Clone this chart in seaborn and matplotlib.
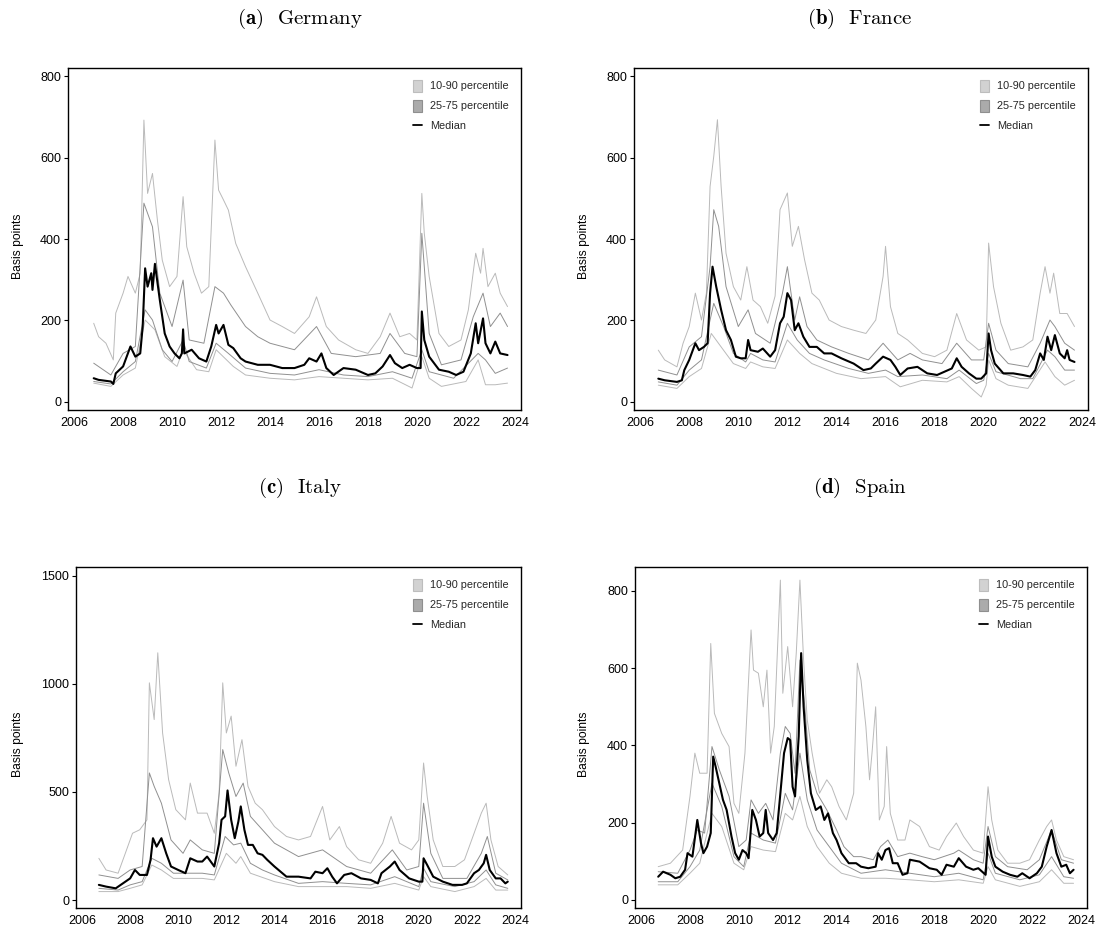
import matplotlib
matplotlib.use("Agg")
import matplotlib.pyplot as plt
import seaborn as sns
from matplotlib.patches import Patch
from matplotlib.lines import Line2D

# ---------------- DATA ----------------
YEARS = [2006, 2008, 2010, 2012, 2014, 2016, 2018, 2020, 2022, 2024]
LEGEND_LABELS = ["10-90 percentile", "25-75 percentile", "Median"]
TITLES = [("(a)", "Germany"), ("(b)", "France"), ("(c)", "Italy"), ("(d)", "Spain")]
YLABEL = "Basis points"

# Germany
DE_MED_X = [2006.8, 2007.0, 2007.5, 2007.6, 2007.7, 2008.0, 2008.3, 2008.5, 2008.7, 2008.8, 2008.9, 2009.0,
            2009.15, 2009.2, 2009.3, 2009.5, 2009.7, 2009.9, 2010.1, 2010.3, 2010.4, 2010.45, 2010.5, 2010.8,
            2011.1, 2011.4, 2011.6, 2011.8, 2011.9, 2012.1, 2012.3, 2012.5, 2012.8, 2013.0, 2013.5, 2014.0,
            2014.5, 2015.0, 2015.4, 2015.6, 2015.9, 2016.1, 2016.3, 2016.6, 2017.0, 2017.5, 2018.0, 2018.3,
            2018.6, 2018.9, 2019.1, 2019.4, 2019.7, 2020.0, 2020.15, 2020.2, 2020.3, 2020.5, 2020.9, 2021.3,
            2021.6, 2021.9, 2022.2, 2022.4, 2022.5, 2022.7, 2022.8, 2023.0, 2023.2, 2023.4, 2023.7]
DE_MED = [58, 54, 50, 44, 70, 87, 136, 111, 119, 185, 328, 283,
          316, 275, 339, 250, 168, 136, 119, 107, 119, 178, 119, 128,
          107, 99, 136, 189, 168, 189, 140, 132, 107, 99, 91, 91,
          83, 83, 91, 107, 99, 119, 83, 66, 83, 79, 66, 70,
          87, 115, 95, 83, 91, 83, 83, 222, 152, 111, 79, 74,
          66, 74, 119, 193, 144, 205, 144, 119, 148, 119, 115]
DE_P90_X = [2006.8, 2007.0, 2007.3, 2007.6, 2007.7, 2008.0, 2008.2, 2008.5, 2008.7, 2008.85, 2009.0, 2009.2,
            2009.4, 2009.6, 2009.9, 2010.2, 2010.45, 2010.6, 2010.9, 2011.2, 2011.5, 2011.75, 2011.9, 2012.1,
            2012.3, 2012.6, 2013.0, 2013.5, 2014.0, 2014.5, 2015.0, 2015.6, 2015.9, 2016.3, 2016.8, 2017.5,
            2018.0, 2018.5, 2018.9, 2019.3, 2019.7, 2020.0, 2020.2, 2020.3, 2020.5, 2020.9, 2021.3, 2021.8,
            2022.1, 2022.4, 2022.6, 2022.7, 2022.9, 2023.2, 2023.4, 2023.7]
DE_P90 = [193, 160, 144, 103, 218, 267, 308, 267, 316, 692, 512, 561,
          447, 348, 283, 308, 504, 381, 316, 267, 283, 643, 520, 496,
          471, 389, 332, 267, 201, 185, 168, 209, 258, 185, 152, 128,
          119, 160, 218, 160, 168, 152, 512, 414, 308, 168, 136, 152,
          226, 365, 316, 377, 283, 316, 267, 234]
DE_P75_X = [2006.8, 2007.5, 2008.0, 2008.5, 2008.85, 2009.2, 2009.5, 2010.0, 2010.45, 2010.7, 2011.3, 2011.75,
            2012.1, 2012.4, 2013.0, 2013.5, 2014.0, 2015.0, 2015.9, 2016.5, 2017.5, 2018.5, 2018.9, 2019.5,
            2020.0, 2020.2, 2020.5, 2021.0, 2021.8, 2022.3, 2022.7, 2023.0, 2023.4, 2023.7]
DE_P75 = [95, 66, 119, 136, 488, 430, 267, 185, 299, 152, 144, 283,
          267, 238, 185, 160, 144, 128, 185, 119, 111, 119, 168, 119,
          111, 414, 168, 91, 103, 209, 267, 185, 218, 185]
DE_P25_X = [2006.8, 2007.5, 2008.0, 2008.5, 2008.9, 2009.2, 2009.6, 2010.0, 2010.45, 2010.7, 2011.4, 2011.8,
            2012.3, 2013.0, 2014.0, 2015.0, 2016.0, 2017.0, 2018.0, 2019.0, 2019.8, 2020.2, 2020.5, 2021.5,
            2022.5, 2022.8, 2023.2, 2023.7]
DE_P25 = [50, 44, 74, 99, 226, 201, 128, 99, 152, 99, 83, 144,
          119, 83, 70, 66, 79, 66, 62, 74, 58, 128, 74, 58,
          119, 103, 70, 83]
DE_P10_X = [2006.8, 2007.5, 2008.0, 2008.5, 2008.9, 2009.3, 2009.7, 2010.2, 2010.45, 2011.0, 2011.5, 2011.8,
            2012.5, 2013.0, 2014.0, 2015.0, 2016.0, 2017.0, 2018.0, 2019.0, 2019.8, 2020.2, 2020.5, 2021.0,
            2022.0, 2022.5, 2022.8, 2023.2, 2023.7]
DE_P10 = [46, 38, 66, 83, 201, 177, 111, 87, 128, 79, 74, 128,
          87, 66, 58, 54, 62, 58, 54, 58, 34, 111, 58, 38,
          50, 103, 42, 42, 46]

# France
FR_MED_X = [2006.74, 2007.0, 2007.5, 2007.7, 2007.8, 2008.0, 2008.25, 2008.4, 2008.6, 2008.75, 2008.85, 2008.95,
            2009.1, 2009.3, 2009.5, 2009.7, 2009.9, 2010.1, 2010.3, 2010.4, 2010.5, 2010.8, 2011.0, 2011.3,
            2011.5, 2011.7, 2011.85, 2012.0, 2012.15, 2012.3, 2012.45, 2012.65, 2012.9, 2013.2, 2013.5, 2013.8,
            2014.2, 2014.7, 2015.1, 2015.4, 2015.6, 2015.9, 2016.2, 2016.4, 2016.6, 2016.9, 2017.3, 2017.7,
            2018.1, 2018.4, 2018.7, 2018.9, 2019.1, 2019.4, 2019.7, 2019.9, 2020.1, 2020.2, 2020.3, 2020.45,
            2020.8, 2021.2, 2021.6, 2021.9, 2022.1, 2022.3, 2022.45, 2022.6, 2022.75, 2022.9, 2023.1, 2023.3,
            2023.4, 2023.5, 2023.7]
FR_MED = [57, 53, 49, 53, 78, 103, 144, 127, 135, 144, 267, 332,
          283, 226, 176, 152, 111, 107, 107, 152, 127, 123, 131, 111,
          127, 193, 209, 267, 250, 176, 193, 160, 135, 135, 119, 119,
          107, 94, 78, 82, 94, 111, 103, 86, 66, 82, 86, 70,
          66, 74, 82, 107, 86, 70, 57, 57, 70, 168, 127, 94,
          70, 70, 66, 62, 78, 119, 103, 160, 127, 164, 119, 107,
          127, 103, 98]
FR_P90_X = [2006.74, 2007.0, 2007.5, 2007.75, 2008.0, 2008.25, 2008.5, 2008.7, 2008.85, 2009.0, 2009.15, 2009.3,
            2009.5, 2009.8, 2010.1, 2010.35, 2010.6, 2010.9, 2011.2, 2011.5, 2011.7, 2012.0, 2012.2, 2012.45,
            2012.7, 2013.0, 2013.3, 2013.7, 2014.2, 2014.7, 2015.2, 2015.6, 2015.9, 2016.0, 2016.2, 2016.5,
            2016.9, 2017.5, 2018.0, 2018.5, 2018.9, 2019.3, 2019.8, 2020.1, 2020.2, 2020.4, 2020.7, 2021.1,
            2021.6, 2022.0, 2022.3, 2022.5, 2022.7, 2022.85, 2023.1, 2023.4, 2023.7]
FR_P90 = [127, 103, 86, 144, 185, 267, 201, 267, 529, 603, 693, 529,
          365, 283, 250, 332, 250, 234, 193, 260, 472, 513, 382, 431,
          349, 267, 250, 201, 185, 176, 168, 201, 308, 382, 234, 168,
          152, 119, 111, 127, 217, 152, 127, 135, 390, 283, 193, 127,
          135, 152, 267, 332, 267, 316, 217, 217, 185]
FR_P75_X = [2006.74, 2007.5, 2008.0, 2008.5, 2008.85, 2009.0, 2009.2, 2009.5, 2010.0, 2010.4, 2010.7, 2011.3,
            2011.8, 2012.0, 2012.3, 2012.5, 2012.8, 2013.2, 2013.8, 2014.5, 2015.3, 2015.9, 2016.5, 2017.0,
            2017.5, 2018.3, 2018.9, 2019.5, 2020.0, 2020.2, 2020.5, 2021.0, 2021.8, 2022.3, 2022.7, 2022.9,
            2023.3, 2023.7]
FR_P75 = [78, 66, 135, 160, 332, 472, 431, 283, 185, 226, 168, 144,
          267, 332, 201, 258, 185, 152, 135, 119, 103, 144, 103, 119,
          103, 94, 144, 103, 103, 193, 127, 94, 86, 144, 201, 185,
          144, 127]
FR_P25_X = [2006.74, 2007.5, 2008.0, 2008.5, 2008.85, 2009.0, 2009.4, 2009.8, 2010.3, 2010.5, 2011.0, 2011.5,
            2012.0, 2012.4, 2012.9, 2013.5, 2014.5, 2015.3, 2016.0, 2016.5, 2017.5, 2018.5, 2019.0, 2019.7,
            2020.0, 2020.2, 2020.5, 2021.5, 2022.0, 2022.6, 2022.9, 2023.3, 2023.7]
FR_P25 = [49, 41, 78, 103, 201, 242, 185, 119, 98, 119, 103, 98,
          193, 152, 119, 103, 82, 70, 78, 62, 66, 57, 78, 45,
          53, 119, 74, 57, 57, 127, 111, 78, 78]
FR_P10_X = [2006.74, 2007.5, 2008.0, 2008.5, 2008.9, 2009.3, 2009.8, 2010.3, 2010.5, 2011.0, 2011.5, 2012.0,
            2012.5, 2013.0, 2014.0, 2015.0, 2016.0, 2016.6, 2017.5, 2018.5, 2019.0, 2019.5, 2019.9, 2020.1,
            2020.2, 2020.5, 2021.0, 2021.8, 2022.5, 2022.9, 2023.3, 2023.7]
FR_P10 = [41, 33, 62, 82, 168, 135, 94, 82, 98, 86, 82, 152,
          119, 94, 70, 57, 62, 37, 53, 49, 62, 33, 12, 41,
          103, 57, 41, 33, 98, 62, 41, 53]

# Italy
IT_MED_X = [2006.7, 2007.0, 2007.4, 2007.7, 2008.0, 2008.2, 2008.4, 2008.7, 2008.85, 2008.95, 2009.1, 2009.3,
            2009.5, 2009.7, 2010.0, 2010.3, 2010.5, 2010.8, 2011.0, 2011.2, 2011.5, 2011.7, 2011.8, 2011.95,
            2012.05, 2012.2, 2012.35, 2012.5, 2012.6, 2012.75, 2012.9, 2013.1, 2013.3, 2013.5, 2013.7, 2014.0,
            2014.5, 2015.0, 2015.5, 2015.7, 2016.0, 2016.2, 2016.4, 2016.6, 2016.9, 2017.2, 2017.6, 2018.0,
            2018.3, 2018.45, 2018.8, 2019.0, 2019.2, 2019.6, 2020.0, 2020.15, 2020.2, 2020.35, 2020.6, 2021.0,
            2021.4, 2021.8, 2022.0, 2022.3, 2022.5, 2022.7, 2022.8, 2022.95, 2023.2, 2023.4, 2023.6, 2023.7]
IT_MED = [70, 62, 54, 77, 100, 139, 116, 116, 186, 286, 247, 286,
          216, 155, 139, 124, 193, 178, 178, 201, 155, 263, 371, 387,
          507, 371, 286, 363, 433, 325, 255, 255, 216, 209, 186, 155,
          108, 108, 100, 131, 124, 147, 108, 77, 116, 124, 100, 93,
          77, 124, 155, 178, 139, 100, 85, 85, 193, 162, 108, 85,
          70, 70, 77, 124, 139, 170, 209, 139, 100, 100, 77, 85]
IT_P90_X = [2006.7, 2007.0, 2007.5, 2007.8, 2008.1, 2008.4, 2008.7, 2008.8, 2009.0, 2009.15, 2009.35, 2009.6,
            2009.9, 2010.3, 2010.5, 2010.8, 2011.2, 2011.5, 2011.7, 2011.85, 2012.0, 2012.2, 2012.4, 2012.65,
            2012.9, 2013.2, 2013.5, 2014.0, 2014.5, 2015.0, 2015.5, 2016.0, 2016.3, 2016.7, 2017.0, 2017.5,
            2018.0, 2018.5, 2018.85, 2019.2, 2019.7, 2020.0, 2020.2, 2020.35, 2020.6, 2021.0, 2021.5, 2021.9,
            2022.3, 2022.6, 2022.8, 2023.0, 2023.3, 2023.7]
IT_P90 = [193, 139, 124, 216, 309, 325, 371, 1005, 835, 1144, 773, 557,
          418, 371, 541, 402, 402, 309, 495, 1005, 773, 851, 619, 742,
          526, 448, 418, 340, 294, 278, 294, 433, 278, 340, 247, 186,
          170, 263, 387, 263, 232, 278, 634, 479, 278, 155, 155, 186,
          309, 402, 448, 278, 155, 116]
IT_P75_X = [2006.7, 2007.5, 2008.0, 2008.5, 2008.8, 2009.0, 2009.3, 2009.7, 2010.2, 2010.5, 2011.0, 2011.5,
            2011.85, 2012.1, 2012.4, 2012.7, 2013.0, 2013.5, 2014.0, 2015.0, 2016.0, 2017.0, 2018.0, 2018.9,
            2019.5, 2020.0, 2020.2, 2020.5, 2021.0, 2022.0, 2022.6, 2022.85, 2023.2, 2023.7]
IT_P75 = [116, 100, 139, 155, 588, 526, 448, 278, 216, 278, 232, 216,
          696, 588, 479, 541, 387, 325, 263, 201, 232, 155, 124, 232,
          139, 155, 448, 216, 100, 100, 216, 294, 124, 93]
IT_P25_X = [2006.7, 2007.5, 2008.0, 2008.5, 2008.9, 2009.3, 2009.8, 2010.5, 2011.0, 2011.5, 2011.95, 2012.3,
            2012.6, 2013.0, 2013.5, 2014.0, 2015.0, 2016.0, 2017.0, 2018.0, 2019.0, 2020.0, 2020.2, 2020.5,
            2021.5, 2022.3, 2022.8, 2023.2, 2023.7]
IT_P25 = [54, 46, 70, 85, 193, 170, 124, 124, 124, 116, 294, 255,
          263, 170, 139, 116, 77, 85, 77, 70, 108, 62, 147, 85,
          62, 85, 139, 70, 54]
IT_P10_X = [2006.7, 2007.5, 2008.0, 2008.5, 2008.9, 2009.3, 2009.8, 2010.5, 2011.0, 2011.5, 2012.0, 2012.4,
            2012.6, 2013.0, 2014.0, 2015.0, 2016.0, 2017.0, 2018.0, 2019.0, 2020.0, 2020.2, 2020.5, 2021.5,
            2022.3, 2022.8, 2023.2, 2023.7]
IT_P10 = [39, 39, 54, 70, 162, 139, 100, 100, 100, 93, 216, 170,
          201, 124, 85, 62, 62, 62, 54, 77, 46, 108, 62, 39,
          62, 100, 46, 46]

# Spain
ES_MED_X = [2006.7, 2006.9, 2007.2, 2007.4, 2007.6, 2007.8, 2007.9, 2008.1, 2008.3, 2008.45, 2008.55, 2008.7,
            2008.85, 2008.95, 2009.05, 2009.2, 2009.35, 2009.5, 2009.7, 2009.85, 2010.0, 2010.15, 2010.3, 2010.4,
            2010.55, 2010.7, 2010.85, 2011.0, 2011.1, 2011.2, 2011.4, 2011.55, 2011.7, 2011.85, 2012.0, 2012.1,
            2012.2, 2012.3, 2012.45, 2012.55, 2012.65, 2012.8, 2012.95, 2013.15, 2013.35, 2013.5, 2013.65, 2013.85,
            2014.0, 2014.2, 2014.5, 2014.8, 2015.0, 2015.3, 2015.6, 2015.7, 2015.85, 2016.0, 2016.15, 2016.3,
            2016.5, 2016.7, 2016.9, 2017.0, 2017.4, 2017.8, 2018.1, 2018.3, 2018.5, 2018.8, 2019.0, 2019.3,
            2019.6, 2019.8, 2020.1, 2020.2, 2020.35, 2020.5, 2020.8, 2021.1, 2021.4, 2021.6, 2021.9, 2022.2,
            2022.4, 2022.6, 2022.8, 2023.0, 2023.2, 2023.4, 2023.55, 2023.7]
ES_MED = [60, 73, 65, 56, 60, 78, 121, 112, 207, 147, 121, 138,
          173, 371, 345, 302, 259, 233, 164, 121, 104, 129, 121, 108,
          233, 207, 164, 173, 233, 173, 155, 173, 276, 380, 419, 414,
          293, 268, 423, 639, 501, 362, 276, 233, 242, 207, 224, 173,
          155, 121, 95, 95, 86, 82, 86, 121, 104, 129, 134, 95,
          95, 65, 69, 104, 99, 82, 78, 65, 91, 86, 108, 86,
          78, 82, 65, 164, 112, 86, 73, 65, 60, 69, 56, 69,
          86, 138, 181, 121, 86, 91, 69, 78]
ES_P90_X = [2006.7, 2007.2, 2007.7, 2008.0, 2008.2, 2008.4, 2008.7, 2008.85, 2009.0, 2009.3, 2009.6, 2009.8,
            2010.0, 2010.25, 2010.5, 2010.6, 2010.8, 2011.0, 2011.15, 2011.3, 2011.45, 2011.7, 2011.8, 2012.0,
            2012.2, 2012.35, 2012.5, 2012.65, 2012.8, 2013.0, 2013.3, 2013.6, 2013.8, 2014.1, 2014.4, 2014.7,
            2014.85, 2015.0, 2015.2, 2015.35, 2015.45, 2015.6, 2015.75, 2015.95, 2016.05, 2016.2, 2016.5, 2016.8,
            2017.0, 2017.4, 2017.8, 2018.2, 2018.5, 2018.9, 2019.2, 2019.6, 2020.0, 2020.2, 2020.35, 2020.6,
            2021.0, 2021.5, 2021.9, 2022.3, 2022.6, 2022.8, 2023.0, 2023.3, 2023.7]
ES_P90 = [86, 95, 129, 268, 380, 328, 328, 664, 483, 431, 397, 250,
          224, 380, 699, 595, 587, 500, 595, 380, 449, 828, 535, 656,
          500, 639, 828, 621, 466, 380, 276, 311, 293, 242, 207, 276,
          613, 569, 449, 311, 380, 500, 207, 242, 397, 224, 155, 155,
          207, 190, 138, 129, 164, 199, 164, 129, 121, 293, 207, 129,
          95, 95, 104, 155, 190, 207, 155, 112, 104]
ES_P75_X = [2006.7, 2007.5, 2008.0, 2008.3, 2008.6, 2008.9, 2009.2, 2009.6, 2010.0, 2010.3, 2010.5, 2010.8,
            2011.1, 2011.4, 2011.7, 2011.9, 2012.1, 2012.3, 2012.5, 2012.7, 2012.9, 2013.2, 2013.6, 2014.0,
            2014.3, 2014.7, 2015.0, 2015.5, 2015.8, 2016.1, 2016.5, 2017.0, 2017.5, 2018.0, 2018.8, 2019.0,
            2019.6, 2020.0, 2020.2, 2020.5, 2021.0, 2021.8, 2022.3, 2022.8, 2023.2, 2023.7]
ES_P75 = [73, 69, 129, 181, 173, 397, 337, 268, 138, 155, 259, 224,
          250, 207, 380, 449, 431, 328, 621, 501, 337, 276, 233, 181,
          138, 112, 112, 104, 138, 155, 112, 121, 112, 104, 121, 129,
          104, 95, 190, 112, 86, 78, 104, 181, 104, 95]
ES_P25_X = [2006.7, 2007.5, 2008.0, 2008.4, 2008.9, 2009.3, 2009.8, 2010.2, 2010.5, 2011.0, 2011.5, 2011.9,
            2012.2, 2012.5, 2012.8, 2013.2, 2013.7, 2014.2, 2015.0, 2016.0, 2017.0, 2018.0, 2019.0, 2020.0,
            2020.2, 2020.5, 2021.5, 2022.3, 2022.8, 2023.3, 2023.7]
ES_P25 = [47, 47, 86, 129, 302, 242, 112, 86, 173, 155, 147, 276,
          233, 380, 259, 181, 138, 95, 69, 78, 69, 60, 69, 52,
          121, 69, 52, 65, 112, 60, 56]
ES_P10_X = [2006.7, 2007.5, 2008.0, 2008.4, 2008.9, 2009.3, 2009.8, 2010.2, 2010.5, 2011.0, 2011.5, 2011.9,
            2012.2, 2012.5, 2012.8, 2013.2, 2013.7, 2014.2, 2015.0, 2016.0, 2017.0, 2018.0, 2019.0, 2020.0,
            2020.2, 2020.5, 2021.5, 2022.3, 2022.8, 2023.3, 2023.7]
ES_P10 = [39, 39, 69, 95, 224, 190, 95, 78, 138, 129, 125, 224,
          207, 268, 190, 138, 95, 69, 56, 56, 52, 47, 52, 43,
          86, 52, 35, 47, 78, 43, 43]

YLIMS = [(-20, 820), (-20, 820), (-37, 1541), (-21, 862)]
YTICKS = [[0, 200, 400, 600, 800], [0, 200, 400, 600, 800],
          [0, 500, 1000, 1500], [0, 200, 400, 600, 800]]

# ---------------- STYLE ----------------
sns.set_theme(style="white")
plt.rcParams["font.family"] = ["Liberation Sans", "DejaVu Sans"]
plt.rcParams["mathtext.fontset"] = "cm"

C_OUTER = "#bababa"
C_INNER = "#909090"

fig = plt.figure(figsize=(11.02, 9.34), dpi=100)
W, H = 1102.0, 934.0
# axes boxes in pixels: left, right, top, bottom
BOXES = [(68, 521, 68, 410), (634, 1088, 68, 410), (76, 521, 567, 908), (635, 1087, 567, 908)]
YLAB_X = [23.5, 589.5, 23.5, 589.5]
TITLE_POS = [(300, 19), (860, 19), (300, 488), (860, 488)]

panels = [
    (DE_P10_X, DE_P10, DE_P25_X, DE_P25, DE_P75_X, DE_P75, DE_P90_X, DE_P90, DE_MED_X, DE_MED),
    (FR_P10_X, FR_P10, FR_P25_X, FR_P25, FR_P75_X, FR_P75, FR_P90_X, FR_P90, FR_MED_X, FR_MED),
    (IT_P10_X, IT_P10, IT_P25_X, IT_P25, IT_P75_X, IT_P75, IT_P90_X, IT_P90, IT_MED_X, IT_MED),
    (ES_P10_X, ES_P10, ES_P25_X, ES_P25, ES_P75_X, ES_P75, ES_P90_X, ES_P90, ES_MED_X, ES_MED),
]

for i, pdata in enumerate(panels):
    l, r, t, b = BOXES[i]
    ax = fig.add_axes([l / W, 1 - b / H, (r - l) / W, (b - t) / H])
    p10x, p10, p25x, p25, p75x, p75, p90x, p90, mx, med = pdata
    sns.lineplot(x=p90x, y=p90, ax=ax, color=C_OUTER, lw=0.7, sort=False)
    sns.lineplot(x=p10x, y=p10, ax=ax, color=C_OUTER, lw=0.7, sort=False)
    sns.lineplot(x=p75x, y=p75, ax=ax, color=C_INNER, lw=0.7, sort=False)
    sns.lineplot(x=p25x, y=p25, ax=ax, color=C_INNER, lw=0.7, sort=False)
    sns.lineplot(x=mx, y=med, ax=ax, color="black", lw=1.5, sort=False)

    ax.set_xlim(2005.75, 2024.25)
    ax.set_ylim(*YLIMS[i])
    ax.set_xticks(YEARS)
    ax.set_xticklabels([str(y) for y in YEARS])
    ax.set_yticks(YTICKS[i])
    ax.set_yticklabels([str(v) for v in YTICKS[i]])
    ax.tick_params(axis="y", direction="out", length=3, width=0.8, colors="black",
                   labelsize=9, pad=2, left=True)
    ax.tick_params(axis="x", length=0, labelsize=9, pad=5, colors="black")
    for s in ax.spines.values():
        s.set_color("black")
        s.set_linewidth(1.0)
    ax.set_xlabel("")
    ax.set_ylabel(YLABEL, fontsize=8.7, color="black")
    ax.yaxis.set_label_coords((YLAB_X[i] - l) / (r - l), 0.48)

    handles = [
        Patch(facecolor="#d2d2d2", edgecolor="#bdbdbd", linewidth=0.8),
        Patch(facecolor="#ababab", edgecolor="#8f8f8f", linewidth=0.8),
        Line2D([0], [0], color="black", lw=1.3),
    ]
    ax.legend(handles, LEGEND_LABELS, loc="upper right", frameon=False, fontsize=7.8,
              handlelength=0.8, handleheight=1.3, handletextpad=0.8, labelspacing=0.75,
              borderaxespad=0.7, bbox_to_anchor=(1.0, 1.0))

    tag, name = TITLES[i]
    tx, ty = TITLE_POS[i]
    fig.text(tx / W, 1 - ty / H, r"$\mathbf{" + tag + r"}$" + "  " + name, ha="center", va="center",
             fontsize=15, family="cmr10", color="black")

fig.savefig("out.png", dpi=100, facecolor="white")
